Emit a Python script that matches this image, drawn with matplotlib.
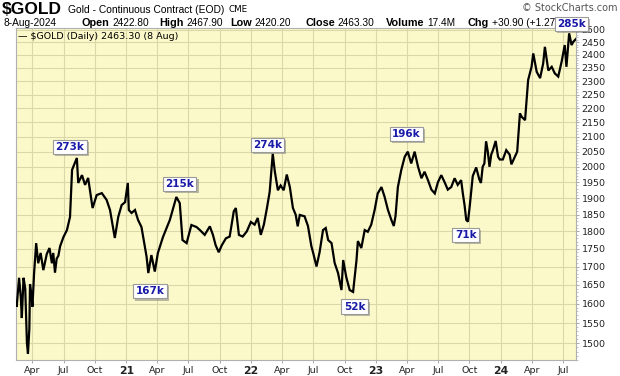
import matplotlib
matplotlib.use('Agg')
import matplotlib.pyplot as plt
import matplotlib.dates as mdates
import matplotlib.ticker as mticker
import matplotlib.patheffects as pe
import pandas as pd

# Daily close of $GOLD
dates = [
    '2020-02-13', '2020-02-15', '2020-02-22', '2020-02-27', '2020-03-01', '2020-03-06', '2020-03-11',
    '2020-03-16', '2020-03-19', '2020-03-23', '2020-03-25', '2020-03-30', '2020-04-01', '2020-04-06',
    '2020-04-12', '2020-04-18', '2020-04-25', '2020-05-03', '2020-05-13', '2020-05-21', '2020-05-28',
    '2020-06-01', '2020-06-06', '2020-06-11', '2020-06-16', '2020-06-21', '2020-07-01', '2020-07-11',
    '2020-07-20', '2020-07-26', '2020-08-09', '2020-08-13', '2020-08-24', '2020-09-02', '2020-09-11',
    '2020-09-24', '2020-10-06', '2020-10-21', '2020-11-04', '2020-11-14', '2020-11-28', '2020-12-08',
    '2020-12-18', '2020-12-28', '2021-01-05', '2021-01-08', '2021-01-16', '2021-01-26', '2021-02-04',
    '2021-02-14', '2021-03-01', '2021-03-06', '2021-03-15', '2021-03-25', '2021-04-03', '2021-04-18',
    '2021-05-08', '2021-05-27', '2021-06-06', '2021-06-14', '2021-06-26', '2021-07-10', '2021-07-25',
    '2021-08-04', '2021-08-18', '2021-09-02', '2021-09-11', '2021-09-19', '2021-09-28', '2021-10-07',
    '2021-10-19', '2021-10-30', '2021-11-11', '2021-11-17', '2021-11-26', '2021-12-07', '2021-12-19',
    '2021-12-31', '2022-01-11', '2022-01-20', '2022-01-29', '2022-02-07', '2022-02-16', '2022-02-24',
    '2022-03-05', '2022-03-11', '2022-03-20', '2022-03-28', '2022-04-06', '2022-04-15', '2022-04-24',
    '2022-05-03', '2022-05-11', '2022-05-17', '2022-05-23', '2022-06-06', '2022-06-16', '2022-06-26',
    '2022-07-01', '2022-07-11', '2022-07-20', '2022-07-30', '2022-08-07', '2022-08-14', '2022-08-24',
    '2022-09-02', '2022-09-12', '2022-09-22', '2022-09-27', '2022-10-06', '2022-10-16', '2022-10-26',
    '2022-11-05', '2022-11-09', '2022-11-19', '2022-11-29', '2022-12-08', '2022-12-18', '2022-12-28',
    '2023-01-06', '2023-01-17', '2023-01-26', '2023-02-05', '2023-02-15', '2023-02-22', '2023-02-27',
    '2023-03-06', '2023-03-16', '2023-03-26', '2023-04-04', '2023-04-14', '2023-04-24', '2023-05-04',
    '2023-05-14', '2023-05-23', '2023-06-02', '2023-06-12', '2023-06-22', '2023-07-01', '2023-07-11',
    '2023-07-20', '2023-07-30', '2023-08-09', '2023-08-19', '2023-08-28', '2023-09-07', '2023-09-12',
    '2023-09-17', '2023-09-22', '2023-09-27', '2023-10-02', '2023-10-11', '2023-10-21', '2023-10-30',
    '2023-11-04', '2023-11-09', '2023-11-14', '2023-11-19', '2023-11-24', '2023-11-29', '2023-12-04',
    '2023-12-09', '2023-12-17', '2023-12-24', '2023-12-29', '2024-01-07', '2024-01-17', '2024-01-27',
    '2024-02-01', '2024-02-11', '2024-02-18', '2024-02-26', '2024-03-02', '2024-03-12', '2024-03-21',
    '2024-03-31', '2024-04-05', '2024-04-15', '2024-04-25', '2024-05-04', '2024-05-09', '2024-05-19',
    '2024-05-29', '2024-06-07', '2024-06-17', '2024-06-27', '2024-07-06', '2024-07-11', '2024-07-19',
    '2024-07-26', '2024-07-31', '2024-08-08',
]
closes = [
    1600, 1592, 1669, 1617, 1563, 1669, 1640,
    1500, 1475, 1535, 1652, 1617, 1592, 1683,
    1766, 1709, 1738, 1690, 1735, 1752, 1709,
    1738, 1683, 1722, 1730, 1757, 1784, 1804,
    1843, 1990, 2029, 1948, 1973, 1942, 1964,
    1870, 1910, 1916, 1895, 1864, 1781, 1843,
    1879, 1888, 1948, 1864, 1855, 1864, 1834,
    1813, 1727, 1682, 1732, 1686, 1738, 1784,
    1834, 1904, 1885, 1775, 1766, 1819, 1813,
    1804, 1790, 1815, 1790, 1760, 1740, 1760,
    1780, 1785, 1860, 1870, 1790, 1785, 1800,
    1828, 1820, 1840, 1790, 1820, 1870, 1920,
    2043, 1985, 1925, 1940, 1925, 1975, 1935,
    1870, 1850, 1815, 1849, 1845, 1816, 1757,
    1739, 1700, 1740, 1804, 1810, 1775, 1766,
    1710, 1682, 1636, 1718, 1671, 1636, 1631,
    1718, 1772, 1752, 1804, 1799, 1820, 1864,
    1915, 1935, 1905, 1864, 1834, 1816, 1845,
    1935, 1990, 2033, 2050, 2011, 2050, 2000,
    1963, 1984, 1957, 1927, 1915, 1950, 1973,
    1952, 1927, 1935, 1963, 1942, 1957, 1915,
    1879, 1834, 1829, 1874, 1970, 1998, 1960,
    1948, 2000, 2011, 2085, 2050, 2000, 2040,
    2055, 2086, 2033, 2024, 2024, 2055, 2040,
    2008, 2033, 2050, 2182, 2170, 2158, 2304,
    2354, 2406, 2335, 2311, 2367, 2432, 2340,
    2354, 2329, 2317, 2374, 2439, 2354, 2486,
    2439, 2452, 2463.3,
]

# volume call-outs at the swing points
note_labels = ['273k', '215k', '167k', '274k', '52k', '196k', '71k', '285k']
note_dates = ['2020-07-20', '2021-06-06', '2021-03-11', '2022-02-18',
              '2022-10-30', '2023-03-31', '2023-09-20', '2024-07-26']
note_prices = [2066, 1945, 1633, 2072, 1592, 2110, 1790, 2524]

y_ticks = list(range(1500, 2501, 50))

# header strip: (label, value, x pixel of label)
quote_labels = ['Open', 'High', 'Low', 'Close', 'Volume', 'Chg']
quote_values = ['2422.80', '2467.90', '2420.20', '2463.30', '17.4M', '+30.90 (+1.27%)']
quote_x = [82, 159, 230, 305, 386, 468]

bg = '#fbf9c9'
grid_c = '#dad8a8'
text_c = '#222222'
sans = ['Liberation Sans', 'DejaVu Sans']

fig = plt.figure(figsize=(6.2, 3.76), dpi=100)
ax = fig.add_axes([16 / 620, 16 / 376, 560 / 620, 332 / 376])
ax.set_facecolor(bg)

d = pd.to_datetime(dates)
ax.plot(d, closes, color='black', lw=1.6, solid_joinstyle='miter', zorder=3)

ax.set_yscale('log')
ax.set_ylim(1459.7, 2507.8)
ax.set_xlim(pd.Timestamp('2020-02-13'), pd.Timestamp('2024-08-08'))

ax.yaxis.set_major_locator(mticker.FixedLocator(y_ticks))
ax.yaxis.set_minor_locator(mticker.FixedLocator([v for v in range(1460, 2510, 10) if v % 50]))
ax.yaxis.set_major_formatter(mticker.FuncFormatter(lambda v, p: f'{int(round(v))}'))
ax.yaxis.set_minor_formatter(mticker.NullFormatter())
ax.yaxis.tick_right()

ax.xaxis.set_major_locator(mdates.MonthLocator(bymonth=[1, 4, 7, 10]))


def fmt_x(v, p):
    t = mdates.num2date(v)
    if t.month == 1:
        return t.strftime('%y')
    return t.strftime('%b')


ax.xaxis.set_major_formatter(mticker.FuncFormatter(fmt_x))
ax.tick_params(axis='both', which='major', length=2, width=0.6, color='#999999',
               labelsize=6.8, labelcolor=text_c, pad=2)
ax.tick_params(axis='y', which='minor', length=1.2, width=0.5, color='#aaaaaa')
for lbl in ax.get_xticklabels():
    if lbl.get_text().isdigit():
        lbl.set_fontweight('bold')
        lbl.set_fontsize(7.8)

ax.grid(True, which='major', color=grid_c, lw=0.8, zorder=0)
for s in ax.spines.values():
    s.set_color('#b0b0b0')
    s.set_linewidth(0.8)

# call-out boxes
shadow = [pe.withSimplePatchShadow(offset=(1.5, -1.5), shadow_rgbFace='#777777', alpha=0.5)]
for lab, nd, npr in zip(note_labels, note_dates, note_prices):
    t = ax.text(pd.Timestamp(nd), npr, lab, color='#1a1aa8', fontsize=7.5, fontweight='bold',
                ha='center', va='center', zorder=6, clip_on=False,
                bbox=dict(boxstyle='square,pad=0.22', fc='white', ec='#9a9a9a', lw=0.8))
    t.get_bbox_patch().set_path_effects(shadow)

# legend line inside plot
ax.text(0.004, 0.988, '\u2014 $GOLD (Daily) 2463.30 (8 Aug)', transform=ax.transAxes,
        fontsize=6.8, color='black', ha='left', va='top', zorder=5)

# header
renderer = fig.canvas.get_renderer()
W = fig.bbox.width
fig.text(2 / 620, 1 - 10 / 376, '$GOLD', fontsize=12.5, fontweight='bold', va='center',
         ha='left', family=sans)
t_name = fig.text(68 / 620, 1 - 10 / 376, 'Gold - Continuous Contract (EOD)', fontsize=7.4,
                  va='center', ha='left', family=sans)
x_end = t_name.get_window_extent(renderer=renderer).x1
fig.text((x_end + 4) / W, 1 - 10 / 376, 'CME', fontsize=6.3, va='center', ha='left')
fig.text(617 / 620, 1 - 8 / 376, '\u00a9 StockCharts.com', fontsize=7, va='center',
         ha='right', color='#555555')

y_q = 1 - 23 / 376
fig.text(3 / 620, y_q, '8-Aug-2024', fontsize=7.3, va='center', ha='left', family=sans)
for lab, val, xp in zip(quote_labels, quote_values, quote_x):
    tl = fig.text(xp / 620, y_q, lab, fontsize=7.8, fontweight='bold', va='center',
                  ha='left', family=sans, zorder=-1)
    x1 = tl.get_window_extent(renderer=renderer).x1
    fig.text((x1 + 3) / W, y_q, val, fontsize=7.3, va='center', ha='left', family=sans,
             zorder=-1)

fig.savefig('out.png', dpi=100, facecolor='white')
